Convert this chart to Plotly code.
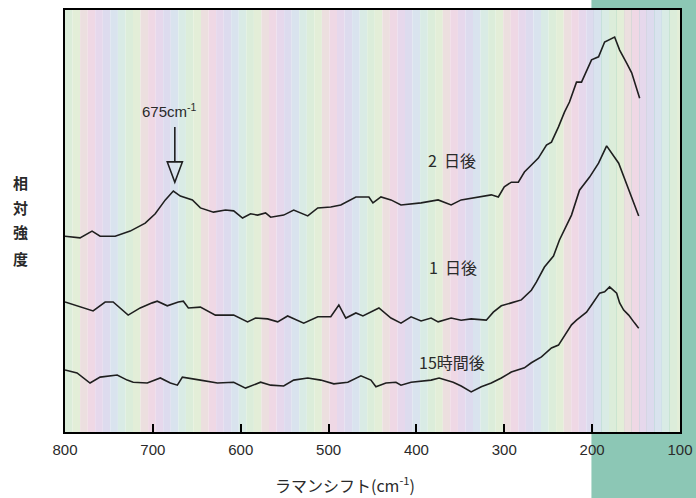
import plotly.graph_objects as go

# ---- data (Raman shift in cm^-1, relative intensity in arbitrary units) ----
wn_2d = [800, 782.9, 769.2, 760.0, 742.9, 725.8, 708.7, 697.3, 685.8, 676.7, 668.7, 655.0, 645.9, 631.0,
         617.3, 608.0, 597.9, 588.8, 580.8, 571.7, 565.9, 551.1, 539.7, 523.7, 512.3, 497.5, 486.1, 474.6,
         468.9, 454.1, 449.5, 440.4, 429.0, 417.6, 394.7, 375.3, 360.5, 349.1, 328.5, 314.8, 306.8, 300.0,
         292.0, 284.0, 277.1, 269.2, 261.2, 252.0, 246.3, 238.3, 231.5, 225.8, 217.8, 212.1, 204.1, 200.7,
         192.7, 185.8, 174.4, 168.7, 160.7, 155.0, 145.9]
int_2d = [46.4, 46.0, 47.6, 46.4, 46.4, 47.6, 49.5, 51.7, 55.0, 57.1, 55.9, 55.0, 53.1, 52.1,
          52.6, 52.4, 50.7, 51.7, 51.4, 51.9, 50.9, 51.4, 52.6, 51.2, 53.1, 53.3, 53.8, 55.2,
          55.7, 55.7, 54.3, 55.7, 55.0, 53.8, 54.3, 55.0, 53.8, 55.0, 55.7, 56.2, 55.7, 58.1,
          59.2, 59.2, 61.6, 63.3, 64.9, 68.0, 68.7, 72.3, 75.8, 78.2, 82.9, 82.9, 86.5, 88.2,
          88.9, 92.4, 93.6, 90.5, 87.4, 85.1, 79.1]

wn_1d = [800, 788.6, 768.0, 754.3, 745.2, 728.1, 714.4, 700.7, 695.0, 683.6, 671.0, 665.3, 659.6, 645.9,
         628.8, 608.0, 592.2, 583.1, 569.4, 557.9, 546.6, 528.3, 512.3, 497.5, 488.3, 480.4, 468.9, 460.9,
         442.7, 429.0, 417.6, 406.1, 394.7, 383.3, 375.3, 360.5, 349.1, 337.7, 320.5, 312.5, 303.4, 292.0,
         280.6, 269.2, 263.5, 254.3, 244.0, 237.2, 223.5, 214.4, 202.9, 192.7, 183.5, 169.8, 155.0, 147.0]
int_1d = [30.8, 30.1, 28.7, 30.8, 30.8, 27.7, 29.4, 30.6, 31.0, 29.9, 30.8, 31.0, 29.4, 29.6,
          27.7, 27.7, 26.1, 27.0, 26.8, 26.1, 27.5, 25.8, 27.3, 27.3, 30.1, 27.0, 28.2, 27.5,
          29.4, 27.0, 25.8, 27.3, 26.3, 27.0, 26.1, 27.0, 26.5, 26.8, 26.5, 28.4, 29.9, 30.6,
          31.3, 33.6, 35.5, 39.1, 41.7, 45.5, 51.4, 57.3, 60.4, 63.7, 67.8, 63.7, 55.7, 51.2]

wn_15h = [800, 786.3, 771.5, 760.0, 740.6, 729.2, 722.4, 706.4, 691.5, 680.1, 672.1, 666.4, 645.9, 626.5,
          608.0, 594.5, 577.4, 565.9, 551.1, 539.7, 523.7, 508.9, 494.0, 478.1, 463.2, 451.8, 446.1, 434.7,
          423.3, 417.6, 406.1, 383.3, 374.2, 358.2, 349.1, 337.7, 326.2, 314.8, 303.4, 292.0, 277.1, 269.2,
          257.7, 246.3, 238.3, 229.2, 223.5, 217.8, 206.4, 200.7, 191.5, 185.8, 180.1, 172.1, 168.7, 164.1,
          158.4, 151.6, 147.0]
int_15h = [14.7, 14.0, 11.6, 13.0, 13.5, 12.3, 11.8, 11.6, 12.8, 11.6, 11.1, 13.0, 12.3, 11.6,
           11.8, 10.4, 11.8, 11.1, 10.9, 12.3, 12.8, 12.3, 11.4, 11.8, 13.3, 12.3, 10.7, 11.6,
           11.8, 11.1, 11.8, 12.3, 12.8, 11.8, 10.9, 9.5, 10.7, 11.6, 12.8, 14.2, 15.2, 16.4,
           17.8, 19.9, 20.6, 23.5, 25.4, 26.5, 28.4, 30.1, 32.9, 33.2, 34.4, 32.9, 30.6, 28.9,
           27.7, 25.8, 24.6]

series_labels = ["2\u00a0\u00a0日後", "1\u00a0\u00a0日後", "15時間後"]
label_pos = [(360, 64.5), (358, 39.1), (360, 16.6)]
tick_vals = [800, 700, 600, 500, 400, 300, 200, 100]
tick_text = ["800", "700", "600", "500", "400", "300", "200", "100"]
peak_wn = 675
peak_label = "675cm<sup>-1</sup>"

LINE = "#1f1f1f"
TXT = "#2a2a2a"
JP = "Noto Sans CJK JP"

fig = go.Figure()
for x, y in [(wn_2d, int_2d), (wn_1d, int_1d), (wn_15h, int_15h)]:
    fig.add_trace(go.Scatter(x=x, y=y, mode="lines", line=dict(color=LINE, width=1.6),
                             showlegend=False, hoverinfo="skip"))

shapes = []
# teal scan background at right
shapes.append(dict(type="rect", xref="paper", yref="paper", x0=0.856, x1=1.05, y0=-0.2, y1=1.05,
                   fillcolor="#8cc7b5", line=dict(width=0), layer="below"))
# pastel moire stripes inside the plot
stripe_cols = ["#e3eed8", "#ecdfdf", "#efd8e5", "#e6d8ec", "#dddbee", "#d9e3ee", "#d9ebe5", "#dcedda"]
bw = 8.6
x = 800.0
i = 7
while x > 100:
    x1 = max(100, x - bw)
    shapes.append(dict(type="rect", xref="x", yref="paper", x0=x, x1=x1, y0=0, y1=1,
                       fillcolor=stripe_cols[i % len(stripe_cols)], line=dict(width=0), layer="below"))
    x = x1
    i += 1

# arrow marking the 675 cm-1 peak (line + hollow triangle head)
shapes.append(dict(type="line", xref="x", yref="y", x0=peak_wn, x1=peak_wn, y0=72.3, y1=64.0,
                   line=dict(color=LINE, width=1.6)))
shapes.append(dict(type="path", xref="x", yref="y",
                   path=f"M {peak_wn + 8.6},64.0 L {peak_wn - 8.6},64.0 L {peak_wn},59.2 Z",
                   line=dict(color=LINE, width=1.6), fillcolor="rgba(0,0,0,0)"))

annotations = []
annotations.append(dict(x=681, y=76.3, xref="x", yref="y", text=peak_label, showarrow=False,
                        xanchor="center", yanchor="middle",
                        font=dict(family="Liberation Sans", size=15, color=TXT)))
for (lx, ly), t in zip(label_pos, series_labels):
    annotations.append(dict(x=lx, y=ly, xref="x", yref="y", text=t, showarrow=False,
                            xanchor="center", yanchor="middle",
                            font=dict(family=JP, size=16, color=TXT)))
for ch, yy in zip(["相", "対", "強", "度"], [0.592, 0.533, 0.474, 0.412]):
    annotations.append(dict(x=-0.073, y=yy, xref="paper", yref="paper", text="<b>" + ch + "</b>",
                            showarrow=False, xanchor="center", yanchor="middle",
                            font=dict(family=JP, size=15, color=TXT)))
annotations.append(dict(x=0.455, y=-0.124, xref="paper", yref="paper",
                        text="ラマンシフト(cm<sup>-1</sup>)", showarrow=False,
                        xanchor="center", yanchor="middle",
                        font=dict(family=JP, size=16, color=TXT)))

fig.update_layout(
    width=696, height=498, autosize=False,
    margin=dict(l=65, r=16, t=10, b=66),
    paper_bgcolor="white", plot_bgcolor="rgba(0,0,0,0)",
    shapes=shapes, annotations=annotations,
    xaxis=dict(range=[800, 100], tickvals=tick_vals, ticktext=tick_text, ticks="inside",
               ticklen=8, tickwidth=2, tickcolor="black", showline=True, linewidth=2,
               linecolor="black", mirror=True, showgrid=False, zeroline=False,
               tickfont=dict(family="Liberation Sans", size=15, color=TXT),
               ticklabelstandoff=3, automargin=False),
    yaxis=dict(range=[0, 100], showticklabels=False, ticks="", showline=True, linewidth=2,
               linecolor="black", mirror=True, showgrid=False, zeroline=False, automargin=False),
)

fig.write_html("out.html", config={"displayModeBar": False, "responsive": False},
               post_script="document.body.style.margin='0';document.body.style.overflow='hidden';")
